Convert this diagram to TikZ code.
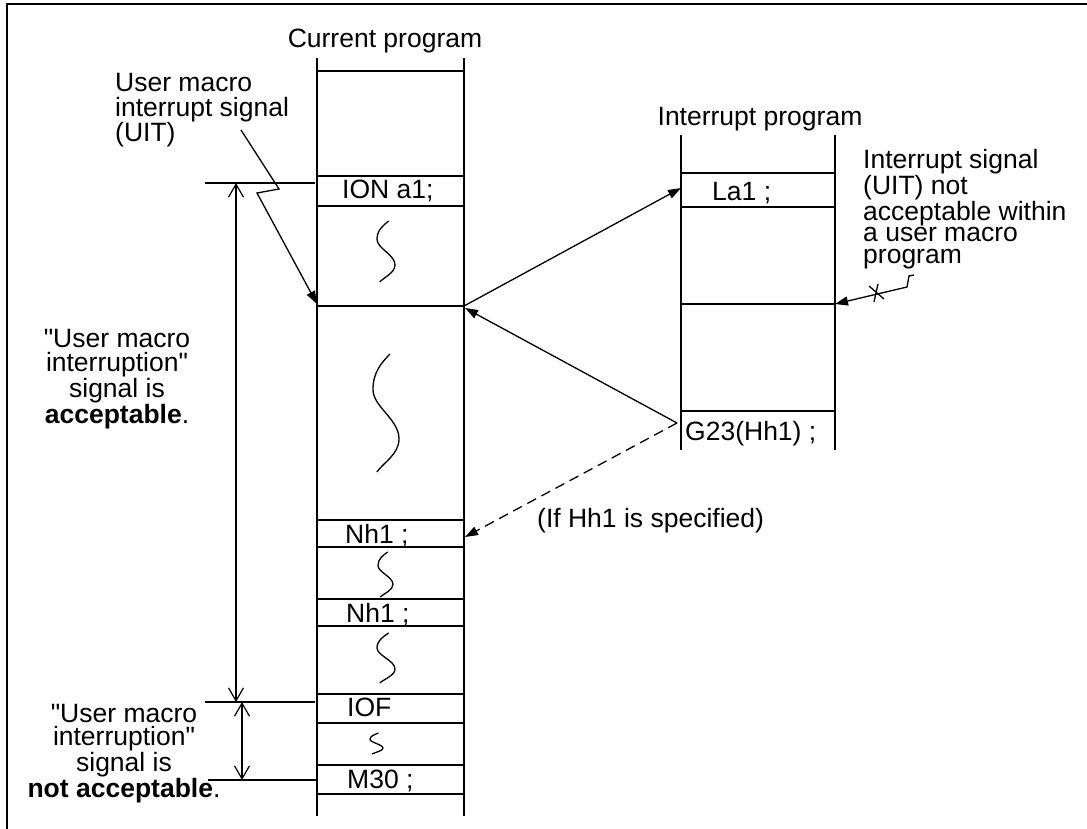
\documentclass[tikz,border=0pt]{standalone}
\usepackage{fontspec}
\setmainfont{Liberation Sans}[Ligatures=TeXOff]
\usepackage{tikz}
\usetikzlibrary{arrows.meta,positioning}

\tikzset{
  col/.style={line width=1.6pt},
  sig/.style={line width=1.3pt,-{Triangle[length=13pt,width=9pt]}},
  dim/.style={line width=1.2pt,{Straight Barb[length=13pt,width=15pt]}-{Straight Barb[length=13pt,width=15pt]}},
  ext/.style={line width=1.4pt},
  wave/.style={line width=1.3pt},
  txt/.style={inner sep=0pt,font={\fontsize{26.5}{24}\selectfont}},
}
\newcommand{\squig}[4]{%
  \draw[wave] ({#1+0.65*#3},#2)
    .. controls ({#1+0.35*#3},{#2+0.07*#4}) and ({#1},{#2+0.15*#4}) .. ({#1},{#2+0.3*#4})
    .. controls ({#1},{#2+0.45*#4}) and ({#1+#3},{#2+0.55*#4}) .. ({#1+#3},{#2+0.72*#4})
    .. controls ({#1+#3},{#2+0.85*#4}) and ({#1+0.4*#3},{#2+0.92*#4}) .. ({#1+0.15*#3},{#2+#4});}

\begin{document}
\begin{tikzpicture}[x=1pt,y=-1pt]
\useasboundingbox (0,0) rectangle (1087,828);
\draw[line width=2.5pt] (7,835) -- (7,4) -- (1095,4);

\draw[col] (317,58) -- (317,816);
\draw[col] (464,58) -- (464,816);
\foreach \y in {71,176,206,306,520,547,599,626,694,723,765,794}
  \draw[col] (317,\y) -- (464,\y);
\draw[col] (681,135) -- (681,450);
\draw[col] (835,135) -- (835,450);
\foreach \y in {173,207,304,411}
  \draw[col] (681,\y) -- (835,\y);

\node[txt,anchor=base] (cur) at (385,47) {Current program};
\node[txt,anchor=base] (intr) at (760,125) {Interrupt program};

\node[txt,anchor=base west] (ion) at (342,198) {ION a1;};
\node[txt,anchor=base west] (nha) at (345,543) {Nh1 ;};
\node[txt,anchor=base west] (nhb) at (346,622) {Nh1 ;};
\node[txt,anchor=base west] (iof) at (347,716) {IOF};
\node[txt,anchor=base west] (mend) at (347,788) {M30 ;};
\node[txt,anchor=base west] (la) at (712,200) {La1 ;};
\node[txt,anchor=base west] (gret) at (685,440) {G23(Hh1) ;};

\squig{377}{221}{18}{61}
\squig{373}{354}{26}{118}
\squig{378}{552}{15}{45}
\squig{377}{633}{18}{50}
\squig{370}{733}{13}{21}

\node[txt,anchor=base west,align=left,font={\fontsize{26.5}{25}\selectfont}] (uit) at (115,141)
  {User macro\\interrupt signal\\(UIT)};
\node[txt,anchor=base,align=center] (ok) at (117,423)
  {"User macro\\interruption"\\signal is\\\textbf{acceptable}.};
\node[txt,anchor=base,align=center,font={\fontsize{26.5}{23.5}\selectfont}] (nok) at (124,797)
  {"User macro\\interruption"\\signal is\\\textbf{not acceptable}.};
\node[txt,anchor=base west,align=left,font={\fontsize{26.5}{21.5}\selectfont}] (rej) at (863,263)
  {Interrupt signal\\(UIT) not\\acceptable within\\a user macro\\program};
\node[txt,anchor=base west] (hh) at (537,527) {(If Hh1 is specified)};

\coordinate (uit-a) at (241,130);
\coordinate (uit-b) at (279,189);
\coordinate (uit-c) at (257,193);
\coordinate (cur-l) at (317,304);
\coordinate (cur-r) at (464,306);
\coordinate (cur-r2) at (465,308);
\coordinate (la-in) at (681,188);
\coordinate (g-out) at (677,423);
\coordinate (nh-in) at (465,537);
\coordinate (rej-a) at (914,275);
\coordinate (rej-b) at (909,276);
\coordinate (rej-c) at (907,287);
\coordinate (intr-r) at (835,304);

\draw[sig] (uit-a) -- (uit-b) -- (uit-c) -- (cur-l);
\draw[sig] (cur-r) -- (la-in);
\draw[sig] (g-out) -- (cur-r2);
\draw[sig,dash pattern=on 10pt off 6pt] (g-out) -- (nh-in);
\draw[sig] (rej-a) -- (rej-b) -- (rej-c) -- (intr-r);
\draw[line width=1.3pt] (869,286) -- (884,299) (878,284) -- (874,302);

\coordinate (dim-a) at (236,183);
\coordinate (dim-b) at (236,702);
\coordinate (dim-c) at (242,702);
\coordinate (dim-d) at (242,780);
\draw[ext] (205,183) -- (315,183);
\draw[ext] (205,702) -- (315,702);
\draw[ext] (208,780) -- (318,780);
\draw[dim] (dim-a) -- (dim-b);
\draw[dim] (dim-c) -- (dim-d);
\end{tikzpicture}
\end{document}
